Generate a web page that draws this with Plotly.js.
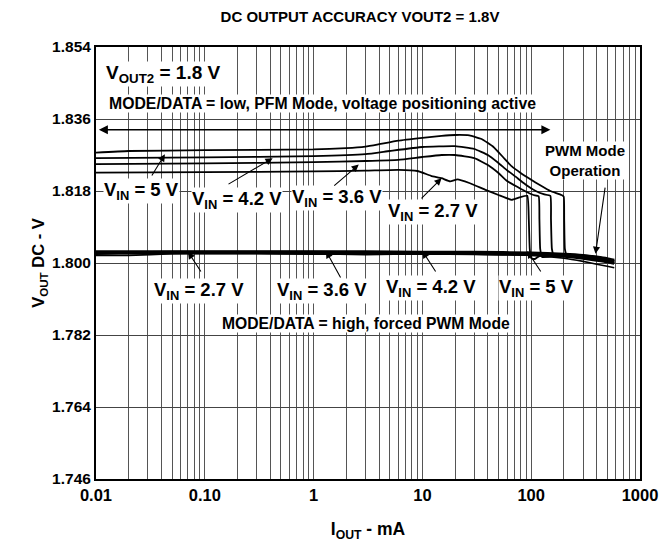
<!DOCTYPE html>
<html>
<head>
<meta charset="utf-8">
<script src="https://cdn.plot.ly/plotly-3.0.1.min.js"></script>
<style>html,body{margin:0;padding:0;background:#fff;}#chart{width:671px;height:546px;}</style>
</head>
<body>
<div id="chart"></div>
<script>
// ---- Data (I in mA, VOUT in V) ----
// PFM mode curves (MODE/DATA = low)
const pfm5_I   = [0.01, 0.02, 0.1, 1, 2, 3, 4, 6, 10, 15, 20, 27, 35, 45, 55, 66, 80, 100, 120, 150, 190, 199, 201, 204, 212, 300, 400, 500, 580];
const pfm5_V   = [1.8276, 1.8280, 1.8282, 1.8284, 1.8287, 1.8291, 1.8297, 1.8306, 1.8313, 1.8318, 1.8320, 1.8319, 1.8310, 1.8290, 1.8265, 1.8242, 1.8225, 1.8208, 1.8195, 1.8180, 1.8170, 1.8166, 1.8110, 1.8035, 1.8020, 1.8019, 1.8015, 1.8010, 1.8006];
const pfm42_I  = [0.01, 0.1, 1, 3, 5, 10, 20, 30, 40, 50, 60, 75, 90, 110, 130, 150, 152, 155, 162, 250, 400, 580];
const pfm42_V  = [1.8262, 1.8264, 1.8267, 1.8272, 1.8280, 1.8290, 1.8292, 1.8285, 1.8270, 1.8250, 1.8232, 1.8212, 1.8195, 1.8180, 1.8172, 1.8168, 1.8110, 1.8035, 1.8017, 1.8019, 1.8013, 1.8004];
const pfm36_I  = [0.01, 0.1, 1, 3, 6, 10, 15, 20, 30, 40, 50, 60, 75, 90, 105, 117, 119, 121, 126, 200, 400, 580];
const pfm36_V  = [1.8247, 1.8249, 1.8252, 1.8255, 1.8258, 1.8265, 1.8270, 1.8270, 1.8262, 1.8245, 1.8225, 1.8205, 1.8190, 1.8178, 1.8170, 1.8167, 1.8110, 1.8035, 1.8015, 1.8020, 1.8012, 1.8002];
const pfm27_I  = [0.01, 0.1, 1, 3, 6, 9, 12, 15, 18, 21, 27, 38, 50, 66, 78, 92, 95, 97, 100, 108, 120, 200, 400, 580];
const pfm27_V  = [1.8226, 1.8227, 1.8229, 1.8231, 1.8233, 1.8230, 1.8218, 1.8212, 1.8204, 1.8209, 1.8200, 1.8183, 1.8170, 1.8158, 1.8164, 1.8168, 1.8110, 1.8035, 1.8012, 1.8010, 1.8018, 1.8019, 1.8012, 1.8000];
// Forced PWM curves (MODE/DATA = high)
const pwm_I    = [0.01, 0.02, 0.05, 0.1, 0.3, 1, 3, 10, 30, 100, 200, 300, 400, 500, 580];
const pwm5_V   = [1.8028, 1.8028, 1.8028, 1.8028, 1.8028, 1.8028, 1.8028, 1.8027, 1.8027, 1.8025, 1.8022, 1.8019, 1.8015, 1.8011, 1.8007];
const pwm42_V  = [1.8026, 1.8026, 1.8027, 1.8027, 1.8027, 1.8027, 1.8026, 1.8026, 1.8025, 1.8023, 1.8020, 1.8016, 1.8012, 1.8008, 1.8004];
const pwm36_V  = [1.8024, 1.8025, 1.8025, 1.8025, 1.8025, 1.8024, 1.8024, 1.8024, 1.8023, 1.8021, 1.8017, 1.8012, 1.8007, 1.8003, 1.7999];
const pwm27_V  = [1.8019, 1.8019, 1.8023, 1.8024, 1.8024, 1.8023, 1.8021, 1.8023, 1.8022, 1.8019, 1.8012, 1.8004, 1.7997, 1.7992, 1.7988];

const xTickVals = [0.01, 0.1, 1, 10, 100, 1000];
const xTickText = ['0.01', '0.10', '1', '10', '100', '1000'];
const yTickVals = [1.746, 1.764, 1.782, 1.800, 1.818, 1.836, 1.854];
const yTickText = ['1.746', '1.764', '1.782', '1.800', '1.818', '1.836', '1.854'];

// ---- Traces ----
const FONT = 'Liberation Sans, Arial, sans-serif';
function tr(x, y, w) {
  return {x: x, y: y, type: 'scatter', mode: 'lines', line: {color: '#000', width: w, shape: 'spline', smoothing: 0.4}, hoverinfo: 'skip', showlegend: false};
}
const traces = [
  tr(pwm_I, pwm5_V, 3), tr(pwm_I, pwm42_V, 3), tr(pwm_I, pwm36_V, 3), tr(pwm_I, pwm27_V, 1.6),
  tr(pfm5_I, pfm5_V, 1.8), tr(pfm42_I, pfm42_V, 1.8), tr(pfm36_I, pfm36_V, 1.8), tr(pfm27_I, pfm27_V, 1.8)
];

// minor gridlines 2..9 per decade
const minorVals = [];
for (let d = -2; d < 3; d++) for (let k = 2; k <= 9; k++) minorVals.push(k * Math.pow(10, d));

const L = Math.log10;
function lab(text, x, y, xanchor, size) {
  return {text: text, x: x, y: y, xref: 'paper', yref: 'paper', xanchor: xanchor || 'left', yanchor: 'middle',
    showarrow: false, bgcolor: '#fff', borderpad: 0, font: {family: FONT, size: size || 14, color: '#000', weight: 'bold'}};
}
function arr(tipI, tipV, tailI, tailV) {
  return {text: '', x: L(tipI), y: tipV, xref: 'x', yref: 'y', ax: L(tailI), ay: tailV, axref: 'x', ayref: 'y',
    showarrow: true, arrowhead: 2, arrowsize: 1.3, arrowwidth: 1.1, arrowcolor: '#000', standoff: 0};
}
// helpers converting pixel-ish placement to paper coords
const px = x => (x - 96) / 544;
const py = y => (479 - y) / 432;

const annotations = [
  lab('V<sub>OUT2</sub> = 1.8 V', px(105), py(74), 'left', 19),
  lab('MODE/DATA = low, PFM Mode, voltage positioning active', px(108), py(104), 'left', 15.8),
  lab('V<sub>IN</sub> = 5 V', px(103), py(191), 'left', 18.5),
  lab('V<sub>IN</sub> = 4.2 V', px(191), py(200), 'left', 18.5),
  lab('V<sub>IN</sub> = 3.6 V', px(291), py(198), 'left', 18.5),
  lab('V<sub>IN</sub> = 2.7 V', px(387), py(212), 'left', 18.5),
  lab('PWM Mode<br>Operation', px(544), py(161), 'left', 15),
  lab('V<sub>IN</sub> = 2.7 V', px(153), py(291), 'left', 18.5),
  lab('V<sub>IN</sub> = 3.6 V', px(276), py(291), 'left', 18.5),
  lab('V<sub>IN</sub> = 4.2 V', px(385), py(288), 'left', 18.5),
  lab('V<sub>IN</sub> = 5 V', px(498), py(288), 'left', 18.5),
  lab('MODE/DATA = high, forced PWM Mode', px(221), py(323), 'left', 15.7),
  // double-headed arrow for PFM region
  {text: '', x: L(150), y: 1.8333, xref: 'x', yref: 'y', ax: L(0.0103), ay: 1.8333, axref: 'x', ayref: 'y',
    showarrow: true, arrowhead: 2, startarrowhead: 2, arrowside: 'end+start', arrowsize: 1.2, startarrowsize: 1.2, arrowwidth: 1.5, arrowcolor: '#000', standoff: 0, startstandoff: 0},
  // pointer arrows
  arr(0.043, 1.8272, 0.032, 1.8215),
  arr(0.42, 1.8262, 0.16, 1.8195),
  arr(2.6, 1.8246, 1.5, 1.8190),
  arr(15, 1.8212, 9.5, 1.8158),
  arr(390, 1.8023, 480, 1.8192),
  arr(0.07, 1.8028, 0.094, 1.7975),
  arr(1.3, 1.8030, 1.8, 1.7960),
  arr(10, 1.8030, 13.5, 1.7975),
  arr(92, 1.8030, 125, 1.7975)
];

const layout = {
  width: 671, height: 546,
  margin: {l: 96, r: 31, t: 47, b: 67},
  paper_bgcolor: '#fff', plot_bgcolor: '#fff',
  font: {family: FONT, color: '#000', size: 14},
  title: {text: 'DC OUTPUT ACCURACY VOUT2 = 1.8V', font: {family: FONT, size: 15, weight: 'bold', color: '#000'},
    x: 360 / 671, xanchor: 'center', xref: 'container', y: 1 - 17 / 546, yanchor: 'middle', yref: 'container'},
  xaxis: {type: 'log', range: [-2, 3], tickmode: 'array', tickvals: xTickVals, ticktext: xTickText,
    tickfont: {family: FONT, size: 16.5, weight: 'bold'}, ticks: '', showline: true, mirror: true, linecolor: '#000', linewidth: 2,
    showgrid: true, gridcolor: '#555', gridwidth: 1, zeroline: false,
    minor: {tickmode: 'array', tickvals: minorVals, showgrid: true, gridcolor: '#555', gridwidth: 1, ticks: ''},
    title: {text: 'I<sub>OUT</sub> - mA', font: {family: FONT, size: 17.5, weight: 'bold'}, standoff: 20}},
  yaxis: {range: [1.746, 1.854], tickmode: 'array', tickvals: yTickVals, ticktext: yTickText,
    tickfont: {family: FONT, size: 15.5, weight: 'bold'}, ticks: '', showline: true, mirror: true, linecolor: '#000', linewidth: 2,
    showgrid: true, gridcolor: '#444', gridwidth: 1, zeroline: false,
    title: {text: 'V<sub>OUT</sub> DC - V', font: {family: FONT, size: 16.5, weight: 'bold'}, standoff: 3}},
  annotations: annotations
};

Plotly.newPlot('chart', traces, layout, {staticPlot: true, displayModeBar: false});
</script>
</body>
</html>
